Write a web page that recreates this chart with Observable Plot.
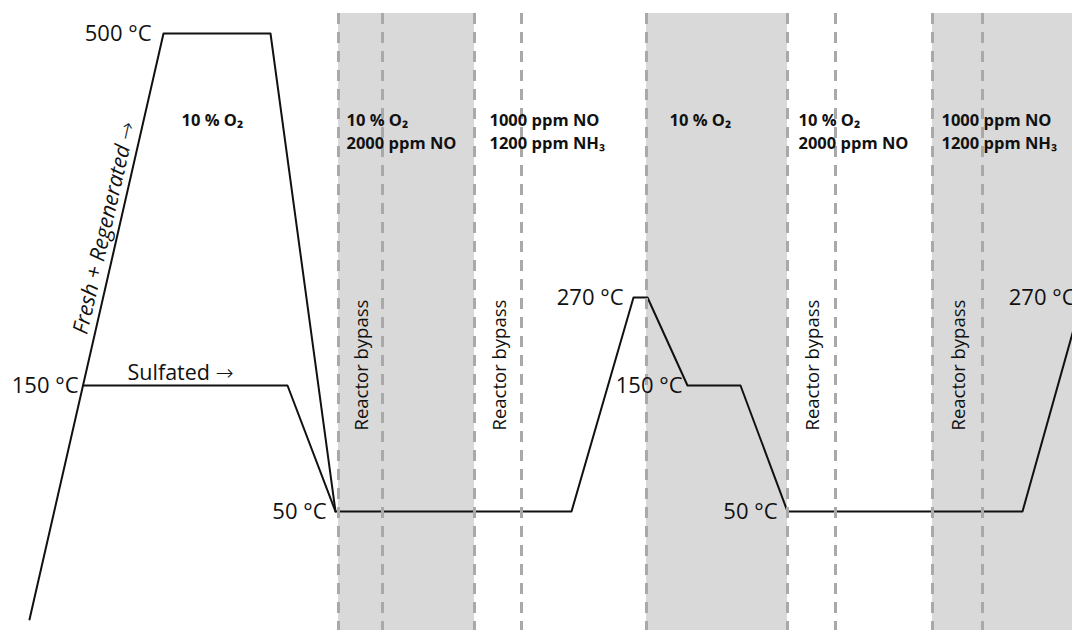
<!DOCTYPE html>
<html>
<head>
<meta charset="utf-8">
<script src="https://cdn.jsdelivr.net/npm/d3@7"></script>
<script src="https://cdn.jsdelivr.net/npm/@observablehq/plot@0.6"></script>
<style>
  html, body { margin: 0; padding: 0; background: #fff; }
  #chart svg { display: block; }
</style>
</head>
<body>
<div id="chart"></div>
<script>
// ---- Data (schematic time axis in arbitrary units, temperature in °C) ----
// Phase boundaries (dashed lines)
const phaseBounds = [338, 382, 474, 521, 646, 787, 835, 932, 982];
// Shaded phases
const shadeStart = [338, 646, 932];
const shadeEnd   = [474, 787, 1072];
// Reactor bypass intervals
const bypassStart = [338, 474, 787, 932];
const bypassEnd   = [382, 521, 835, 982];
const bypassText  = "Reactor bypass";

// Temperature program (fresh + regenerated path)
const mainTime = [29, 163, 270, 335, 571, 633, 647, 687, 740, 787, 1022, 1082];
const mainTemp = [25, 500, 500, 50, 50, 270, 270, 150, 150, 50, 50, 270];
// Sulfated branch
const sulfTime = [83, 287, 335];
const sulfTemp = [150, 150, 50];

// Temperature labels (attached to points of the program)
const tLabelTime  = [163, 83, 335, 633, 687, 787, 1082];
const tLabelTemp  = [500, 150, 50, 270, 150, 50, 270];
const tLabelText  = ["500 °C", "150 °C", "50 °C", "270 °C", "150 °C", "50 °C", "270 °C"];

// Gas composition labels
const gasTime = [181, 346, 489, 669, 798, 941];
const gasText = [
  "10 % O₂",
  "10 % O₂\n2000 ppm NO",
  "1000 ppm NO\n1200 ppm NH₃",
  "10 % O₂",
  "10 % O₂\n2000 ppm NO",
  "1000 ppm NO\n1200 ppm NH₃"
];

// Path annotations
const pathLabelTime = [118, 127];
const pathLabelTemp = [328, 150];
const pathLabelText = ["Fresh + Regenerated →", "Sulfated →"];

// Schematic (non-linear) temperature axis: temperature stops and their relative levels
const tempStops  = [25, 50, 150, 270, 500];
const levelStops = [0, 108, 234, 322, 586];

// ---- Build tables ----
const shades = shadeStart.map((s, i) => ({x1: s, x2: shadeEnd[i]}));
const bypass = bypassStart.map((s, i) => ({x: (s + bypassEnd[i]) / 2, text: bypassText}));
const mainPath = mainTime.map((t, i) => ({t, temp: mainTemp[i]}));
const sulfPath = sulfTime.map((t, i) => ({t, temp: sulfTemp[i]}));
const tLabels = tLabelTime.map((t, i) => ({t, temp: tLabelTemp[i], text: tLabelText[i]}));
const gas = gasTime.map((t, i) => ({t, text: gasText[i]}));
const freshLabel = [{t: pathLabelTime[0], temp: pathLabelTemp[0], text: pathLabelText[0]}];
const sulfLabel = [{t: pathLabelTime[1], temp: pathLabelTemp[1], text: pathLabelText[1]}];

const tempLabelDx = [-12, -5, -9, -10, -5, -10, -7];
const schematic = d3.scaleLinear().domain(tempStops).range(levelStops);

const chart = Plot.plot({
  width: 1072,
  height: 630,
  marginTop: 13,
  marginBottom: 0,
  marginLeft: 0,
  marginRight: 0,
  style: {fontFamily: "'Open Sans', sans-serif", background: "white", color: "#111"},
  x: {domain: [0, 1072], range: [0, 1072], axis: null},
  y: {transform: (v) => schematic(v), domain: [0, 586], range: [619, 33], axis: null},
  marks: [
    Plot.rect(shades, {x1: "x1", x2: "x2", fill: "#d9d9d9"}),
    Plot.line(mainPath, {x: "t", y: "temp", stroke: "#111", strokeWidth: 2, clip: true}),
    Plot.line(sulfPath, {x: "t", y: "temp", stroke: "#111", strokeWidth: 2}),
    Plot.ruleX(phaseBounds, {stroke: "#a9a9a9", strokeWidth: 3, strokeDasharray: "11,8"}),
    // temperature labels
    ...tLabels.map((d, i) => Plot.text([d], {
      x: "t", y: "temp", text: "text", textAnchor: "end", lineAnchor: "middle",
      dx: tempLabelDx[i], fontSize: 22, fill: "#111"
    })),
    // gas composition labels
    Plot.text(gas, {
      x: "t", text: "text", frameAnchor: "top", dy: 96, textAnchor: "start",
      lineAnchor: "top", lineHeight: 1.4, fontSize: 16.5, fontWeight: "bold", fill: "#111"
    }),
    // reactor bypass labels
    Plot.text(bypass, {
      x: "x", text: "text", frameAnchor: "top", dy: 417, rotate: -90, dx: 2,
      textAnchor: "start", lineAnchor: "middle", fontSize: 18.5, fill: "#111"
    }),
    // path annotations
    Plot.text(freshLabel, {
      x: "t", y: "temp", text: "text", rotate: -77.1, dx: -14, dy: -3,
      textAnchor: "middle", lineAnchor: "middle", fontSize: 21.5, fontStyle: "italic", fill: "#111"
    }),
    Plot.text(sulfLabel, {
      x: "t", y: "temp", text: "text", dy: -12, textAnchor: "start",
      lineAnchor: "middle", fontSize: 21.5, fill: "#111"
    })
  ]
});

// Render arrows in a font with a full-size arrow glyph
chart.querySelectorAll("text").forEach((t) => {
  if (t.children.length === 0 && t.textContent.includes("→")) {
    const parts = t.textContent.split("→");
    t.textContent = parts[0];
    const ts = document.createElementNS("http://www.w3.org/2000/svg", "tspan");
    ts.setAttribute("font-family", "DejaVu Sans");
    ts.setAttribute("font-style", "normal");
    ts.setAttribute("font-weight", "300");
    ts.textContent = "→";
    t.appendChild(ts);
    if (parts[1]) t.appendChild(document.createTextNode(parts[1]));
  }
});

document.getElementById("chart").appendChild(chart);
</script>
</body>
</html>
